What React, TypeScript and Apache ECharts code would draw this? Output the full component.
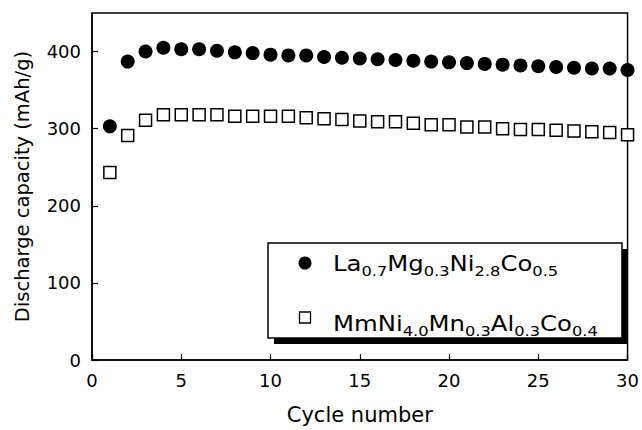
import React, { useEffect, useRef } from "react";
import * as echarts from "echarts";

const cycles = [1,2,3,4,5,6,7,8,9,10,11,12,13,14,15,16,17,18,19,20,21,22,23,24,25,26,27,28,29,30];
const laMgNiCo = [303,387,400,405,403,403,401,399,398,396,395,395,393,392,391,390,389,388,387,386,385,384,383,382,381,380,379,378,378,376];
const mmNiMnAlCo = [243,291,311,318,318,318,318,316,316,316,316,314,313,312,310,309,309,307,305,305,302,302,300,299,299,298,297,296,295,292];
const xTicks = [0,5,10,15,20,25,30];
const yTicks = [0,100,200,300,400];

const FONT = "DejaVu Sans, Liberation Sans, Arial, sans-serif";

export default function App() {
  const ref = useRef<HTMLDivElement>(null);
  useEffect(() => {
    if (!ref.current) return;
    const chart = echarts.init(ref.current, undefined, { renderer: "svg" });
    const rich = {
      n: { fontSize: 21, fontFamily: FONT, color: "#000", lineHeight: 29, verticalAlign: "middle" },
      s: { fontSize: 14, fontFamily: FONT, color: "#000", lineHeight: 14, verticalAlign: "bottom" },
    };
    chart.setOption({
      animation: false,
      backgroundColor: "#fff",
      grid: { left: 92, right: 13, top: 13, bottom: 67, show: true, borderColor: "#000", borderWidth: 1.5, backgroundColor: "transparent" },
      xAxis: {
        type: "value", min: 0, max: 30, interval: 5,
        axisLine: { show: true, lineStyle: { color: "#000", width: 1.5 } },
        axisTick: { show: true, inside: true, length: 6, lineStyle: { color: "#000", width: 1.2 } },
        axisLabel: { color: "#000", fontSize: 18, fontFamily: FONT, margin: 11, formatter: (v: number) => (xTicks.includes(v) ? String(v) : "") },
        splitLine: { show: false },
        name: "Cycle number", nameLocation: "middle", nameGap: 44,
        nameTextStyle: { color: "#000", fontSize: 21, fontFamily: FONT },
      },
      yAxis: {
        type: "value", min: 0, max: 450, interval: 100,
        axisLine: { show: true, lineStyle: { color: "#000", width: 1.5 } },
        axisTick: { show: true, inside: true, length: 6, lineStyle: { color: "#000", width: 1.2 } },
        axisLabel: { color: "#000", fontSize: 18, fontFamily: FONT, margin: 11, showMaxLabel: false, formatter: (v: number) => (yTicks.includes(v) ? String(v) : "") },
        splitLine: { show: false },
        name: "Discharge capacity (mAh/g)", nameLocation: "middle", nameGap: 60, nameRotate: 90,
        nameTextStyle: { color: "#000", fontSize: 19.5, fontFamily: FONT },
      },
      series: [
        {
          type: "scatter", name: "La0.7Mg0.3Ni2.8Co0.5",
          data: cycles.map((c, i) => [c, laMgNiCo[i]]),
          symbol: "circle", symbolSize: 14, clip: false,
          itemStyle: { color: "#000", opacity: 1 },
        },
        {
          type: "scatter", name: "MmNi4.0Mn0.3Al0.3Co0.4",
          data: cycles.map((c, i) => [c, mmNiMnAlCo[i]]),
          symbol: "rect", symbolSize: 12, clip: false,
          itemStyle: { color: "#fff", borderColor: "#000", borderWidth: 1.5, opacity: 1 },
        },
      ],
      graphic: [
        { type: "rect", shape: { x: 274, y: 249, width: 354, height: 95 }, style: { fill: "#000" }, z: 10 },
        { type: "rect", shape: { x: 268, y: 243, width: 354, height: 95 }, style: { fill: "#fff", stroke: "#000", lineWidth: 1.5 }, z: 11 },
        { type: "circle", shape: { cx: 305, cy: 263, r: 6.5 }, style: { fill: "#000" }, z: 12 },
        { type: "rect", shape: { x: 299.5, y: 312, width: 11, height: 11 }, style: { fill: "#fff", stroke: "#000", lineWidth: 1.3 }, z: 12 },
        {
          type: "text", x: 333, y: 263.5, scaleX: 1.16, z: 12,
          style: { text: "{n|La}{s|0.7}{n|Mg}{s|0.3}{n|Ni}{s|2.8}{n|Co}{s|0.5}", rich, verticalAlign: "middle", align: "left" },
        },
        {
          type: "text", x: 333, y: 323.5, scaleX: 1.16, z: 12,
          style: { text: "{n|MmNi}{s|4.0}{n|Mn}{s|0.3}{n|Al}{s|0.3}{n|Co}{s|0.4}", rich, verticalAlign: "middle", align: "left" },
        },
      ],
    });
    return () => chart.dispose();
  }, []);
  return <div ref={ref} style={{ width: 642, height: 430, position: "absolute", left: 0, top: 0 }} />;
}
